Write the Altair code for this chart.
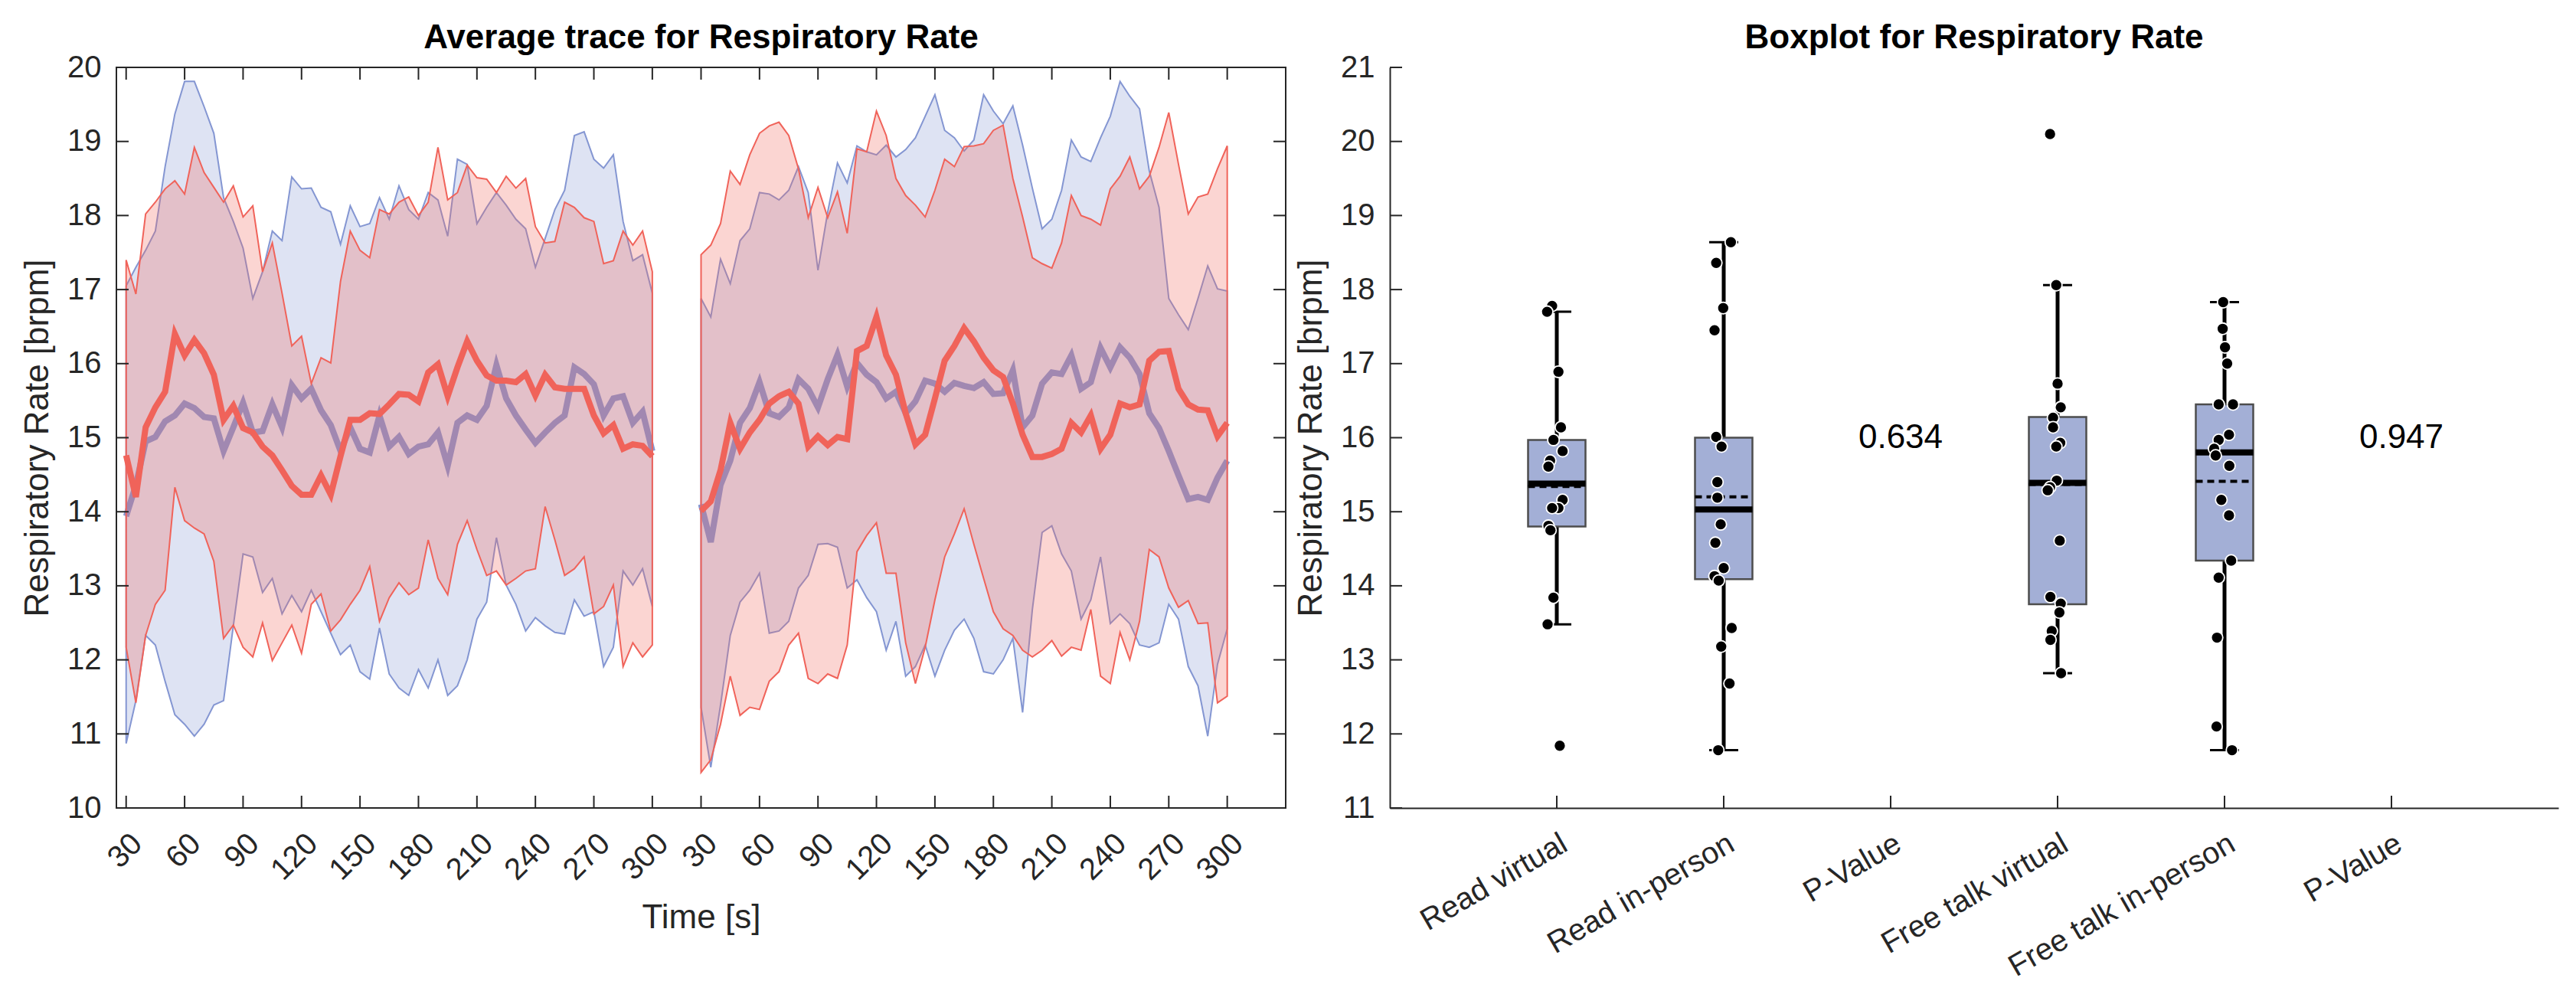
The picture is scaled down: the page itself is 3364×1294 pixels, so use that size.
import json

import pandas as pd
import altair as alt

FONT = "Liberation Sans"
AX = "#262626"
BLUE = "#8496D2"
RED = "#F0635A"
BOX_FILL = "#A3AFD6"
BOX_EDGE = "#4D4D4D"

# ---------------------------------------------------------------------------
# Average traces: one sample every 5 s (30..300 s), two recording blocks
# ---------------------------------------------------------------------------
time_s = list(range(30, 301, 5))

blue_mean_1 = [13.94, 14.36, 14.95, 15.01, 15.22, 15.30, 15.46, 15.40, 15.28, 15.26,
               14.82, 15.14, 15.47, 15.07, 15.09, 15.45, 15.14, 15.71, 15.53, 15.66,
               15.37, 15.17, 14.82, 15.14, 14.85, 14.80, 15.30, 14.88, 15.01, 14.78,
               14.88, 14.91, 15.07, 14.62, 15.20, 15.30, 15.24, 15.43, 15.98, 15.53,
               15.30, 15.11, 14.93, 15.07, 15.20, 15.30, 15.95, 15.86, 15.72, 15.30,
               15.53, 15.56, 15.20, 15.35, 14.82]
blue_hi_1 = [17.05, 17.30, 17.53, 17.79, 18.66, 19.37, 19.81, 19.81, 19.47, 19.11,
             18.24, 17.92, 17.56, 16.88, 17.24, 17.79, 17.66, 18.52, 18.36, 18.37,
             18.11, 18.05, 17.61, 18.13, 17.85, 17.89, 18.24, 17.95, 18.40, 18.08,
             17.95, 18.31, 18.21, 17.72, 18.76, 18.69, 17.89, 18.11, 18.31, 18.14,
             17.95, 17.82, 17.30, 17.69, 18.08, 18.34, 19.08, 19.13, 18.76, 18.64,
             18.82, 17.92, 17.39, 17.47, 16.95]
blue_lo_1 = [10.87, 11.45, 12.33, 12.20, 11.71, 11.26, 11.13, 10.97, 11.13, 11.39,
             11.45, 12.46, 13.43, 13.39, 12.91, 13.10, 12.62, 12.87, 12.65, 12.94,
             12.65, 12.36, 12.07, 12.20, 11.84, 11.74, 12.43, 11.81, 11.62, 11.52,
             11.87, 11.62, 12.00, 11.52, 11.65, 12.00, 12.55, 12.78, 13.65, 13.01,
             12.75, 12.39, 12.57, 12.46, 12.37, 12.35, 12.81, 12.59, 12.65, 11.91,
             12.17, 13.20, 13.01, 13.23, 12.72]
red_mean_1 = [14.76, 14.20, 15.14, 15.41, 15.62, 16.40, 16.11, 16.32, 16.14, 15.85,
              15.24, 15.43, 15.13, 15.07, 14.88, 14.76, 14.56, 14.35, 14.23, 14.23,
              14.49, 14.23, 14.75, 15.24, 15.24, 15.33, 15.32, 15.45, 15.59, 15.58,
              15.49, 15.88, 15.99, 15.56, 15.95, 16.30, 16.04, 15.84, 15.77, 15.77,
              15.75, 15.86, 15.57, 15.85, 15.68, 15.66, 15.66, 15.66, 15.30, 15.06,
              15.17, 14.85, 14.91, 14.89, 14.75]
red_hi_1 = [17.40, 16.94, 18.02, 18.18, 18.36, 18.47, 18.29, 18.92, 18.58, 18.38,
            18.18, 18.40, 17.98, 18.13, 17.24, 17.63, 16.95, 16.24, 16.37, 15.73,
            16.08, 16.01, 17.11, 17.79, 17.53, 17.43, 18.08, 18.02, 18.18, 18.25,
            18.00, 18.18, 18.92, 18.21, 18.31, 18.68, 18.51, 18.49, 18.31, 18.53,
            18.37, 18.50, 17.85, 17.63, 17.65, 18.18, 18.11, 17.97, 17.92, 17.35,
            17.39, 17.79, 17.60, 17.79, 17.24]
red_lo_1 = [12.17, 11.42, 12.33, 12.75, 12.94, 14.33, 13.88, 13.78, 13.70, 13.33,
            12.29, 12.47, 12.17, 12.04, 12.50, 11.99, 12.23, 12.47, 12.09, 12.75,
            12.89, 12.39, 12.54, 12.75, 12.94, 13.26, 12.52, 12.84, 13.04, 12.88,
            12.97, 13.62, 13.10, 12.88, 13.56, 13.88, 13.49, 13.14, 13.20, 13.01,
            13.10, 13.20, 13.23, 14.07, 13.62, 13.14, 13.23, 13.39, 12.62, 12.72,
            13.01, 11.91, 12.23, 12.04, 12.20]

blue_mean_2 = [14.10, 13.59, 14.36, 14.69, 15.20, 15.40, 15.75, 15.33, 15.28, 15.41,
               15.79, 15.66, 15.41, 15.79, 16.12, 15.69, 16.01, 15.85, 15.75, 15.53,
               15.62, 15.33, 15.49, 15.77, 15.73, 15.62, 15.74, 15.70, 15.67, 15.75,
               15.59, 15.60, 15.91, 15.14, 15.30, 15.73, 15.88, 15.86, 16.11, 15.66,
               15.75, 16.21, 15.95, 16.22, 16.08, 15.86, 15.33, 15.13, 14.82, 14.49,
               14.17, 14.20, 14.16, 14.46, 14.69]
blue_hi_2 = [16.88, 16.63, 17.41, 17.08, 17.66, 17.82, 18.31, 18.29, 18.21, 18.34,
             18.66, 18.31, 17.26, 18.05, 18.71, 18.44, 18.94, 18.86, 18.82, 18.95,
             18.79, 18.89, 19.05, 19.34, 19.63, 19.15, 19.05, 18.87, 19.02, 19.63,
             19.41, 19.24, 19.48, 18.95, 18.37, 17.82, 17.95, 18.34, 19.02, 18.79,
             18.73, 19.05, 19.34, 19.81, 19.61, 19.44, 18.60, 18.11, 16.88, 16.66,
             16.46, 16.88, 17.32, 17.01, 16.98]
blue_lo_2 = [11.36, 10.55, 11.39, 12.33, 12.78, 12.94, 13.17, 12.36, 12.39, 12.52,
             12.97, 13.14, 13.56, 13.57, 13.52, 12.97, 13.08, 12.84, 12.65, 12.13,
             12.52, 11.78, 11.91, 12.20, 11.78, 12.13, 12.40, 12.55, 12.29, 11.84,
             11.81, 12.00, 12.29, 11.29, 12.68, 13.72, 13.81, 13.43, 13.20, 12.55,
             12.81, 13.39, 12.49, 12.62, 12.49, 12.20, 12.17, 12.23, 12.75, 12.55,
             11.91, 11.65, 10.97, 11.94, 12.42]
red_mean_2 = [14.01, 14.14, 14.56, 15.20, 14.85, 15.07, 15.24, 15.46, 15.56, 15.62,
              15.46, 14.88, 15.02, 14.90, 15.01, 14.98, 16.17, 16.24, 16.63, 16.11,
              15.85, 15.33, 14.91, 15.04, 15.53, 16.04, 16.24, 16.48, 16.30, 16.08,
              15.91, 15.82, 15.46, 15.04, 14.74, 14.74, 14.78, 14.85, 15.20, 15.07,
              15.30, 14.85, 15.04, 15.46, 15.41, 15.45, 16.04, 16.16, 16.17, 15.66,
              15.45, 15.38, 15.37, 15.02, 15.20]
red_hi_2 = [17.47, 17.60, 17.89, 18.60, 18.42, 18.82, 19.11, 19.21, 19.26, 19.08,
            18.63, 17.97, 18.38, 17.97, 18.32, 17.76, 18.90, 18.86, 19.41, 19.08,
            18.50, 18.27, 18.14, 17.98, 18.34, 18.76, 18.66, 18.93, 18.94, 18.97,
            19.15, 19.22, 18.50, 17.98, 17.43, 17.35, 17.29, 17.63, 18.27, 18.00,
            17.95, 17.87, 18.36, 18.53, 18.79, 18.36, 18.53, 18.92, 19.39, 18.69,
            18.02, 18.25, 18.29, 18.63, 18.94]
red_lo_2 = [10.48, 10.65, 11.13, 11.78, 11.25, 11.36, 11.33, 11.71, 11.84, 12.20,
            12.36, 11.75, 11.68, 11.81, 11.75, 12.20, 13.46, 13.68, 13.85, 13.17,
            13.17, 12.23, 11.68, 12.17, 12.81, 13.39, 13.70, 14.04, 13.56, 13.10,
            12.65, 12.42, 12.33, 12.13, 12.04, 12.13, 12.26, 12.05, 12.17, 12.13,
            12.68, 11.78, 11.68, 12.37, 12.00, 12.52, 13.49, 13.39, 12.97, 12.71,
            12.80, 12.49, 12.50, 11.42, 11.51]

trace_y_ticks = list(range(10, 21))
trace_tick_times = [30, 60, 90, 120, 150, 180, 210, 240, 270, 300]

# ---------------------------------------------------------------------------
# Boxplot
# ---------------------------------------------------------------------------
categories = ["Read virtual", "Read in-person", "P-Value",
              "Free talk virtual", "Free talk in-person", "P-Value"]
box_pos = [1, 2, 4, 5]
box_q1 = [14.80, 14.09, 13.75, 14.34]
box_median = [15.38, 15.03, 15.39, 15.80]
box_mean = [15.34, 15.20, 15.37, 15.41]
box_q3 = [15.97, 16.00, 16.28, 16.45]
whisker_lo = [13.48, 11.78, 12.82, 11.78]
whisker_hi = [17.70, 18.64, 18.06, 17.83]

read_virtual = [17.78, 17.70, 16.89, 16.14, 15.97, 15.82, 15.69, 15.61, 15.16, 15.05,
                15.05, 14.81, 14.75, 13.84, 13.48, 11.84]
read_virtual_jit = [-0.028, -0.058, 0.010, 0.025, -0.020, 0.035, -0.040, -0.050, 0.035, 0.010,
                    -0.028, -0.050, -0.038, -0.020, -0.055, 0.018]
read_person = [18.64, 18.36, 17.75, 17.45, 16.01, 15.88, 15.40, 15.19, 14.83, 14.58,
               14.24, 14.13, 14.07, 13.43, 13.18, 12.68, 11.78]
read_person_jit = [0.043, -0.045, -0.003, -0.055, -0.045, -0.013, -0.038, -0.038, -0.018, -0.050,
                   0.000, -0.055, -0.030, 0.048, -0.015, 0.035, -0.033]
talk_virtual = [20.10, 18.06, 16.73, 16.41, 16.27, 16.14, 15.93, 15.88, 15.42, 15.33,
                15.29, 14.61, 13.85, 13.76, 13.64, 13.39, 13.27, 12.82]
talk_virtual_jit = [-0.045, -0.008, 0.000, 0.019, -0.027, -0.027, 0.016, -0.008, -0.005, -0.045,
                    -0.059, 0.013, -0.043, 0.019, 0.011, -0.035, -0.043, 0.021]
talk_person = [17.83, 17.47, 17.22, 17.00, 16.45, 16.45, 16.04, 15.97, 15.85, 15.76,
               15.62, 15.16, 14.95, 14.34, 14.11, 13.30, 12.10, 11.78]
talk_person_jit = [-0.008, -0.011, 0.003, 0.016, -0.035, 0.051, 0.027, -0.035, -0.062, -0.053,
                   0.029, -0.019, 0.027, 0.040, -0.035, -0.045, -0.048, 0.045]

pvalue_pos = [3, 6]
pvalue_text = ["0.634", "0.947"]
pvalue_y = [16.0, 16.0]
box_y_ticks = list(range(11, 22))

# ---------------------------------------------------------------------------
# frames
# ---------------------------------------------------------------------------
def block(n, offset, bm, bh, bl, rm, rh, rl):
    df = pd.DataFrame({"time": time_s, "blue_mean": bm, "blue_hi": bh, "blue_lo": bl,
                       "red_mean": rm, "red_hi": rh, "red_lo": rl})
    df["block"] = n
    df["pos"] = (df["time"] - 25) / 5 + offset
    return df


trace = pd.concat([
    block(1, 0, blue_mean_1, blue_hi_1, blue_lo_1, red_mean_1, red_hi_1, red_lo_1),
    block(2, 59, blue_mean_2, blue_hi_2, blue_lo_2, red_mean_2, red_hi_2, red_lo_2),
], ignore_index=True)

tick_pos = [(t - 25) / 5 for t in trace_tick_times] + [(t - 25) / 5 + 59 for t in trace_tick_times]

BOX_HALF = 0.172
CAP_HALF = 0.087
boxes = pd.DataFrame({"pos": box_pos, "q1": box_q1, "median": box_median, "mean": box_mean,
                      "q3": box_q3, "w_lo": whisker_lo, "w_hi": whisker_hi})
boxes["left"] = boxes["pos"] - BOX_HALF
boxes["right"] = boxes["pos"] + BOX_HALF
boxes["cap_l"] = boxes["pos"] - CAP_HALF
boxes["cap_r"] = boxes["pos"] + CAP_HALF

groups = [(read_virtual, read_virtual_jit), (read_person, read_person_jit),
          (talk_virtual, talk_virtual_jit), (talk_person, talk_person_jit)]
points = pd.concat([
    pd.DataFrame({"value": vals, "x": [p + j for j in jit]})
    for p, (vals, jit) in zip(box_pos, groups)
], ignore_index=True)

pvals = pd.DataFrame({"pos": pvalue_pos, "y": pvalue_y, "p": pvalue_text})

# ---------------------------------------------------------------------------
# left panel: average traces
# ---------------------------------------------------------------------------
W1, W2, H = 1527, 1526, 967
TICK = 16

x_axis_trace = alt.Axis(values=tick_pos, title="Time [s]",
                        labelExpr="datum.value <= 55 ? 5 * datum.value + 25 : 5 * (datum.value - 59) + 25",
                        labelAngle=315, labelAlign="right", labelBaseline="top",
                        labelPadding=26, titlePadding=20, domain=False,
                        labelOverlap=False, labelFlush=False)
y_axis_trace = alt.Axis(values=trace_y_ticks, title="Respiratory Rate [brpm]",
                        labelPadding=20, titlePadding=16, domain=False,
                        labelOverlap=False, labelFlush=False)


def tx(field):
    return alt.X(f"{field}:Q", scale=alt.Scale(domain=[0, 120], nice=False, zero=False),
                 axis=x_axis_trace)


def ty(field):
    return alt.Y(f"{field}:Q", scale=alt.Scale(domain=[10, 20], nice=False, zero=False),
                 axis=y_axis_trace)


base = alt.Chart(trace)
blue_band = base.mark_area(fill=BLUE, fillOpacity=0.27, stroke=BLUE, strokeWidth=2).encode(
    x=tx("pos"), y=ty("blue_lo"), y2="blue_hi:Q", detail="block:N")
blue_line = base.mark_line(color=BLUE, strokeWidth=8).encode(
    x=tx("pos"), y=ty("blue_mean"), detail="block:N")
red_band = base.mark_area(fill=RED, fillOpacity=0.27, stroke=RED, strokeWidth=2).encode(
    x=tx("pos"), y=ty("red_lo"), y2="red_hi:Q", detail="block:N")
red_line = base.mark_line(color=RED, strokeWidth=8).encode(
    x=tx("pos"), y=ty("red_mean"), detail="block:N")

ytk = alt.Chart(pd.DataFrame({"v": trace_y_ticks}))
xtk = alt.Chart(pd.DataFrame({"p": tick_pos}))
tick_l = ytk.mark_rule(color=AX, strokeWidth=2).encode(y=ty("v"), x=alt.value(0), x2=alt.value(TICK))
tick_r = ytk.mark_rule(color=AX, strokeWidth=2).encode(y=ty("v"), x=alt.value(W1 - TICK), x2=alt.value(W1))
tick_b = xtk.mark_rule(color=AX, strokeWidth=2).encode(x=tx("p"), y=alt.value(H - TICK), y2=alt.value(H))
tick_t = xtk.mark_rule(color=AX, strokeWidth=2).encode(x=tx("p"), y=alt.value(0), y2=alt.value(TICK))

left = alt.layer(blue_band, blue_line, red_band, red_line, tick_l, tick_r, tick_b, tick_t).properties(
    width=W1, height=H,
    title=alt.TitleParams("Average trace for Respiratory Rate", anchor="middle"),
    view=alt.ViewBackground(stroke=AX, strokeWidth=2),
)

# ---------------------------------------------------------------------------
# right panel: boxplot
# ---------------------------------------------------------------------------
x_axis_box = alt.Axis(values=[1, 2, 3, 4, 5, 6], title=None,
                      labelExpr=f"{json.dumps(categories)}[datum.value - 1]",
                      labelAngle=330, labelAlign="right", labelBaseline="top",
                      labelPadding=26, labelLimit=0, domain=True, domainColor=AX, domainWidth=2,
                      labelOverlap=False, labelFlush=False)
y_axis_box = alt.Axis(values=box_y_ticks, title="Respiratory Rate [brpm]",
                      labelPadding=20, titlePadding=16, domain=True, domainColor=AX, domainWidth=2,
                      labelOverlap=False, labelFlush=False)


def bx(field):
    return alt.X(f"{field}:Q", scale=alt.Scale(domain=[0, 7], nice=False, zero=False), axis=x_axis_box)


def by(field):
    return alt.Y(f"{field}:Q", scale=alt.Scale(domain=[11, 21], nice=False, zero=False), axis=y_axis_box)


bb = alt.Chart(boxes)
whisker = bb.mark_rule(color="black", strokeWidth=5).encode(x=bx("pos"), y=by("w_lo"), y2="w_hi:Q")
cap_lo = bb.mark_rule(color="black", strokeWidth=3).encode(x=bx("cap_l"), x2="cap_r:Q", y=by("w_lo"))
cap_hi = bb.mark_rule(color="black", strokeWidth=3).encode(x=bx("cap_l"), x2="cap_r:Q", y=by("w_hi"))
box = bb.mark_rect(fill=BOX_FILL, stroke=BOX_EDGE, strokeWidth=2.5).encode(
    x=bx("left"), x2="right:Q", y=by("q1"), y2="q3:Q")
median = bb.mark_rule(color="black", strokeWidth=8).encode(x=bx("left"), x2="right:Q", y=by("median"))
mean = bb.mark_rule(color="black", strokeWidth=4, strokeDash=[9, 6]).encode(
    x=bx("left"), x2="right:Q", y=by("mean"))
dots = alt.Chart(points).mark_point(shape="circle", filled=True, fill="black", stroke="white",
                                    strokeWidth=1.8, size=230, opacity=1).encode(
    x=bx("x"), y=by("value"))
ptext = alt.Chart(pvals).mark_text(fontSize=44, font=FONT, color="black", align="center",
                                   baseline="middle", dx=13).encode(x=bx("pos"), y=by("y"), text="p:N")

btk_y = alt.Chart(pd.DataFrame({"v": box_y_ticks})).mark_rule(color=AX, strokeWidth=2).encode(
    y=by("v"), x=alt.value(0), x2=alt.value(TICK))
btk_x = alt.Chart(pd.DataFrame({"p": [1, 2, 3, 4, 5, 6]})).mark_rule(color=AX, strokeWidth=2).encode(
    x=bx("p"), y=alt.value(H - TICK), y2=alt.value(H))

right = alt.layer(whisker, cap_lo, cap_hi, box, median, mean, dots, ptext, btk_y, btk_x).properties(
    width=W2, height=H,
    title=alt.TitleParams("Boxplot for Respiratory Rate", anchor="middle"),
    view=alt.ViewBackground(stroke="transparent"),
)

chart = alt.hconcat(left, right, spacing=9).properties(
    padding={"left": 18, "top": 19, "right": 5, "bottom": 5},
    background="white",
).configure(font=FONT).configure_axis(
    labelFont=FONT, titleFont=FONT, labelFontSize=40, titleFontSize=44,
    labelColor=AX, titleColor=AX, titleFontWeight="normal",
    grid=False, ticks=False, tickSize=0,
).configure_title(font=FONT, fontSize=44, fontWeight="bold", color="black", offset=-4)

chart.save("out.html", embed_options={"renderer": "svg", "actions": False})
